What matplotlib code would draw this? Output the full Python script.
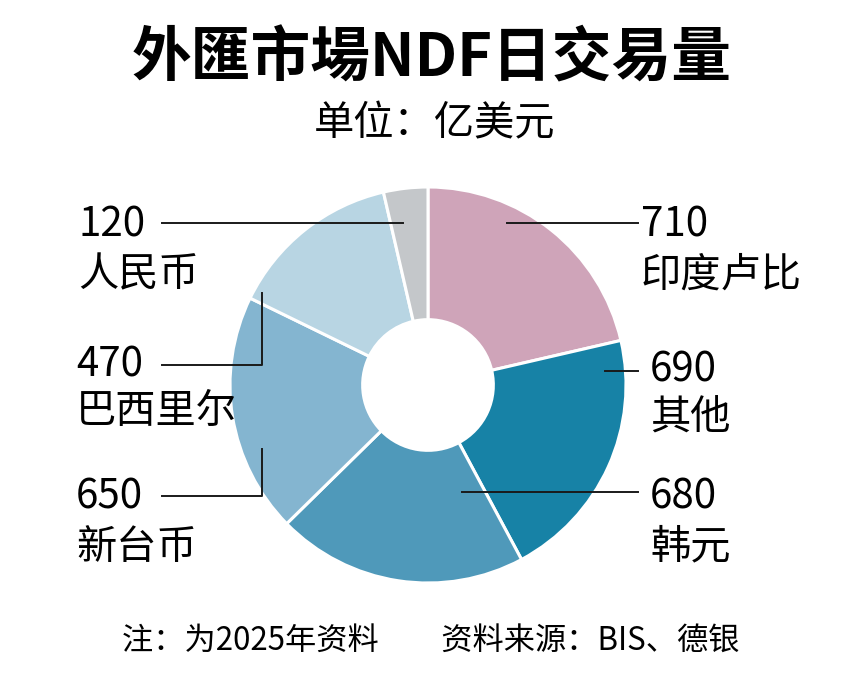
import matplotlib.pyplot as plt

plt.rcParams['font.family'] = ['Noto Sans CJK SC', 'DejaVu Sans']

# 数据（亿美元），从顶部顺时针
categories = ['印度卢比', '其他', '韩元', '新台币', '巴西里尔', '人民币']
values = [710, 690, 680, 650, 470, 120]
colors = ['#cfa4b9', '#1782a6', '#4f99ba', '#84b5d0', '#b8d5e3', '#c4c7ca']

title = '外匯市場NDF日交易量'
subtitle = '单位：亿美元'
footnote = '注：为2025年资料　　资料来源：BIS、德银'

W, H = 863, 690
fig = plt.figure(figsize=(W / 100, H / 100), dpi=100)
ax = fig.add_axes([0, 0, 1, 1])


def py(y):
    # 像素坐标(自上而下) -> 数据坐标
    return H - y


cx, cy, r = 428, py(385), 198
ax.pie(values, colors=colors, startangle=90, counterclock=False,
       center=(cx, cy), radius=r, frame=True,
       wedgeprops=dict(width=r * 0.67, edgecolor='white', linewidth=2.2))
ax.set_xlim(0, W)
ax.set_ylim(0, H)
ax.set_aspect('equal')
ax.axis('off')

# 标签与引线
lab_kw = dict(fontsize=29, color='black', va='center')
line_kw = dict(color='#1a1a1a', lw=1.4)

# 左侧
ax.plot([162, 403], [py(223), py(223)], **line_kw)
ax.text(78, py(225), str(values[5]), ha='left', **lab_kw)
ax.text(78, py(275), categories[5], ha='left', **lab_kw)

ax.plot([162, 262, 262], [py(365), py(365), py(293)], **line_kw)
ax.text(76, py(365), str(values[4]), ha='left', **lab_kw)
ax.text(76, py(411), categories[4], ha='left', **lab_kw)

ax.plot([162, 262, 262], [py(496), py(496), py(449)], **line_kw)
ax.text(76, py(497), str(values[3]), ha='left', **lab_kw)
ax.text(76, py(548), categories[3], ha='left', **lab_kw)

# 右侧
ax.plot([507, 638], [py(223), py(223)], **line_kw)
ax.text(641, py(225), str(values[0]), ha='left', **lab_kw)
ax.text(641, py(275), categories[0], ha='left', **lab_kw)

ax.plot([605, 638], [py(371), py(371)], **line_kw)
ax.text(650, py(370), str(values[1]), ha='left', **lab_kw)
ax.text(650, py(418), categories[1], ha='left', **lab_kw)

ax.plot([462, 638], [py(492), py(492)], **line_kw)
ax.text(650, py(497), str(values[2]), ha='left', **lab_kw)
ax.text(650, py(547), categories[2], ha='left', **lab_kw)

# 标题
ax.text(W / 2, py(60), title, ha='center', va='center',
        fontsize=43, fontweight='black', color='black')
ax.text(W / 2 + 3, py(124), subtitle, ha='center', va='center',
        fontsize=29, color='black')
ax.text(W / 2 - 1, py(641), footnote, ha='center', va='center',
        fontsize=22.5, color='black')

fig.savefig('out.png', dpi=100, facecolor='white')
